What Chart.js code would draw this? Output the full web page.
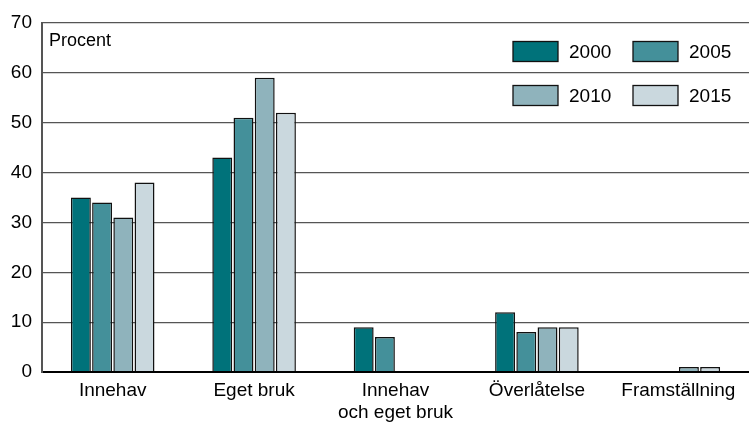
<!DOCTYPE html>
<html>
<head>
<meta charset="utf-8">
<script src="https://cdn.jsdelivr.net/npm/chart.js@4.4.1/dist/chart.umd.min.js"></script>
<style>
  html, body { margin: 0; padding: 0; background: #fff; }
  #wrap { width: 749px; height: 426px; position: relative; }
</style>
</head>
<body>
<div id="wrap"><canvas id="myChart"></canvas></div>
<script>
// ============  data  ============
const categories = ['Innehav', 'Eget bruk', ['Innehav', 'och eget bruk'], 'Överlåtelse', 'Framställning'];
const years = ['2000', '2005', '2010', '2015'];
const values2000 = [35, 43, 9, 12, 0];
const values2005 = [34, 51, 7, 8, 0];
const values2010 = [31, 59, null, 9, 1];
const values2015 = [38, 52, null, 9, 1];
const yTicks = [0, 10, 20, 30, 40, 50, 60, 70];

const colors = ['#00727a', '#44909a', '#8fb3bc', '#cad8de'];
const FONT = "'Liberation Sans', Arial, sans-serif";

Chart.defaults.font.family = FONT;
Chart.defaults.font.size = 19;
Chart.defaults.color = '#000';

// legend drawn inside the plot area, 2 x 2
const legendInside = {
   id: 'legendInside',
   afterDraw(chart) {
      const c = chart.ctx;
      const area = chart.chartArea;
      c.save();
      // "Procent" label
      c.font = '18px ' + FONT;
      c.fillStyle = '#000';
      c.textBaseline = 'middle';
      c.textAlign = 'left';
      c.fillText('Procent', area.left + 7, area.top + 18);

      c.font = '19px ' + FONT;
      const cols = [513, 633];
      const rows = [51.5, 95.5];
      chart.data.datasets.forEach((ds, i) => {
         const x = cols[i % 2];
         const y = rows[Math.floor(i / 2)];
         c.fillStyle = ds.backgroundColor;
         c.fillRect(x, y - 10, 45, 20);
         c.strokeStyle = '#111';
         c.lineWidth = 1.3;
         c.strokeRect(x, y - 10, 45, 20);
         c.fillStyle = '#000';
         c.fillText(ds.label, x + 56, y + 1);
      });
      c.restore();
   }
};

const series = [values2000, values2005, values2010, values2015];

let ctx = document.getElementById('myChart').getContext('2d');
let myChart = new Chart(ctx, {
   type: 'bar',
   data: {
      labels: categories,
      datasets: series.map((vals, i) => ({
         label: years[i],
         data: vals,
         backgroundColor: colors[i],
         borderColor: '#111',
         borderWidth: 1.5,
         borderSkipped: 'bottom',
         categoryPercentage: 0.6,
         barPercentage: 0.94,
      })),
   },
   options: {
      responsive: true,
      maintainAspectRatio: false,
      animation: false,
      layout: {
         padding: { top: 23, right: 0, left: 0, bottom: 0 },
      },
      scales: {
         x: {
            afterFit(scale) { scale.height = 54; },
            grid: { display: false, drawTicks: false },
            border: { display: true, color: '#000', width: 2 },
            ticks: {
               padding: 7,
               maxRotation: 0,
               autoSkip: false,
               font: { size: 19, lineHeight: 1.2 },
            },
         },
         y: {
            min: 0,
            max: 70,
            afterFit(scale) { scale.width = 42; },
            afterBuildTicks(scale) { scale.ticks = yTicks.map(v => ({ value: v })); },
            grid: {
               drawTicks: false,
               color: (c) => c.tick.value === 0 ? '#000' : '#555',
               lineWidth: (c) => c.tick.value === 0 ? 2 : 1.2,
            },
            border: { display: true, color: '#555', width: 2 },
            ticks: {
               padding: 10,
               stepSize: 10,
               font: { size: 19 },
            },
         },
      },
      plugins: {
         legend: { display: false },
         tooltip: { enabled: false },
      },
   },
   plugins: [legendInside],
});

ctx.canvas.parentNode.style.height = '426px';
</script>
</body>
</html>
